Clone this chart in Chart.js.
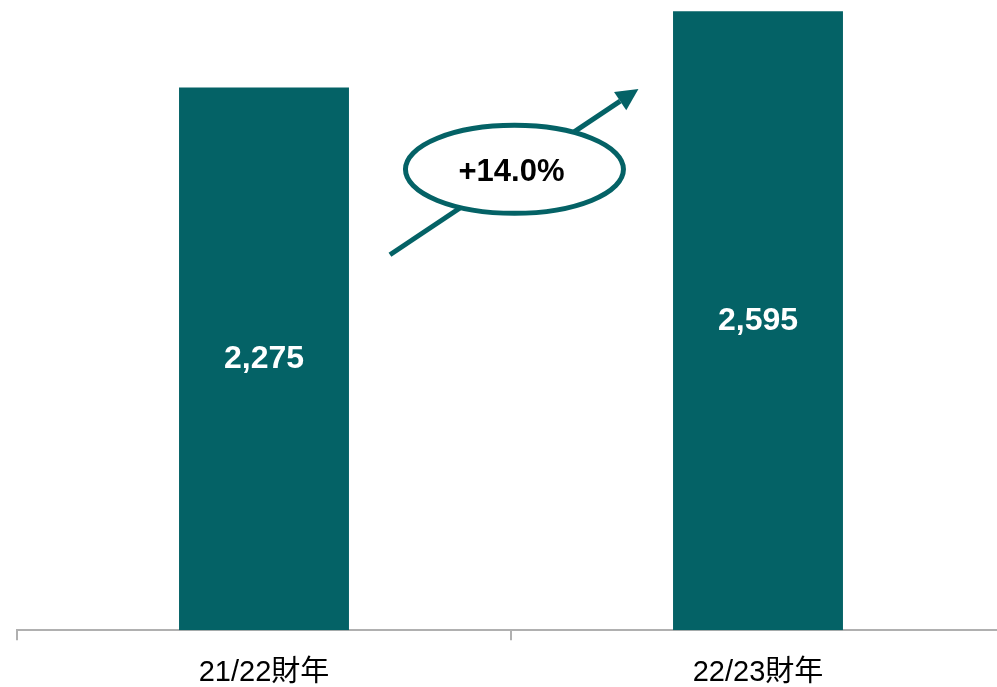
<!DOCTYPE html>
<html>
<head>
<meta charset="utf-8">
<script src="https://cdn.jsdelivr.net/npm/chart.js@4/dist/chart.umd.min.js"></script>
<style>
    html, body { margin: 0; padding: 0; background: #fff; overflow: hidden; }
    #chart { display: block; }
</style>
</head>
<body>
<canvas id="chart" width="1005" height="687"></canvas>
<script>
// данные графика
const categories = ['21/22財年', '22/23財年']
const values = [2275, 2595]
const valueLabels = ['2,275', '2,595']
const growthLabel = '+14.0%'

const teal = '#046266'
const axisGrey = '#b0b0b0'
const fontFamily = '"Liberation Sans", Arial, "Noto Sans CJK TC", sans-serif'

// подписи значений внутри столбцов
const barLabels = {
    id: 'barLabels',
    afterDatasetsDraw(chart) {
        const ctx = chart.ctx
        const meta = chart.getDatasetMeta(0)
        ctx.save()
        ctx.fillStyle = '#fff'
        ctx.font = 'bold 32px ' + fontFamily
        ctx.textAlign = 'center'
        ctx.textBaseline = 'middle'
        meta.data.forEach((bar, i) => {
            ctx.fillText(valueLabels[i], bar.x, (bar.y + bar.base) / 2)
        })
        ctx.restore()
    }
}

// стрелка роста и овал с процентом
const growthArrow = {
    id: 'growthArrow',
    afterDatasetsDraw(chart) {
        const ctx = chart.ctx
        const x = chart.scales.x
        const y = chart.scales.y

        const x1 = x.getPixelForValue(0.255), y1 = y.getPixelForValue(1574)
        const x2 = x.getPixelForValue(0.758), y2 = y.getPixelForValue(2269)
        const cx = x.getPixelForValue(0.507), cy = y.getPixelForValue(1932)

        const angle = Math.atan2(y2 - y1, x2 - x1)
        const headLen = 22
        const headHalf = 11

        ctx.save()
        ctx.strokeStyle = teal
        ctx.fillStyle = teal
        ctx.lineWidth = 5

        ctx.beginPath()
        ctx.moveTo(x1, y1)
        ctx.lineTo(x2 - headLen * Math.cos(angle), y2 - headLen * Math.sin(angle))
        ctx.stroke()

        ctx.beginPath()
        ctx.moveTo(x2, y2)
        ctx.lineTo(x2 - headLen * Math.cos(angle) + headHalf * Math.sin(angle),
                   y2 - headLen * Math.sin(angle) - headHalf * Math.cos(angle))
        ctx.lineTo(x2 - headLen * Math.cos(angle) - headHalf * Math.sin(angle),
                   y2 - headLen * Math.sin(angle) + headHalf * Math.cos(angle))
        ctx.closePath()
        ctx.fill()

        ctx.beginPath()
        ctx.ellipse(cx, cy, 109, 44, 0, 0, Math.PI * 2)
        ctx.fillStyle = '#fff'
        ctx.fill()
        ctx.stroke()

        ctx.fillStyle = '#000'
        ctx.font = 'bold 31px ' + fontFamily
        ctx.textAlign = 'center'
        ctx.textBaseline = 'middle'
        ctx.fillText(growthLabel, cx - 3, cy + 3)
        ctx.restore()
    }
}

const ctx = document.getElementById('chart').getContext('2d')

new Chart(ctx, {
    type: 'bar',
    data: {
        labels: categories,
        datasets: [{
            data: values,
            backgroundColor: teal,
            borderWidth: 0,
            categoryPercentage: 1,
            barPercentage: 0.344
        }]
    },
    options: {
        responsive: false,
        animation: false,
        layout: {
            padding: { left: 17, top: 10, right: 0, bottom: -18 }
        },
        plugins: {
            legend: { display: false },
            tooltip: { enabled: false }
        },
        scales: {
            x: {
                grid: {
                    drawOnChartArea: false,
                    color: axisGrey,
                    lineWidth: 2,
                    tickLength: 10,
                    offset: true
                },
                border: { color: axisGrey, width: 2 },
                ticks: {
                    color: '#000',
                    padding: 15,
                    font: { family: fontFamily, size: 29 }
                }
            },
            y: {
                display: false,
                min: 0,
                max: 2600
            }
        }
    },
    plugins: [barLabels, growthArrow]
})
</script>
</body>
</html>
